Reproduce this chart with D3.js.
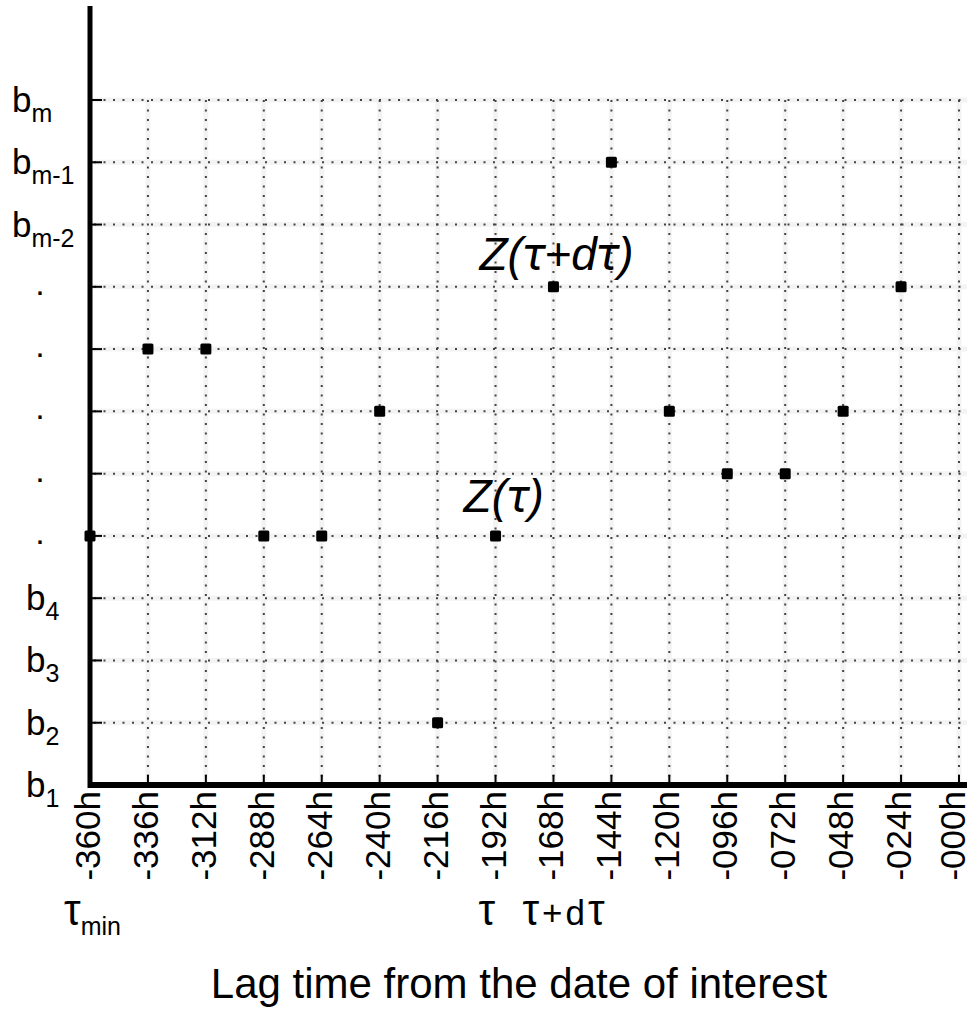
<!DOCTYPE html>
<html>
<head>
<meta charset="utf-8">
<script src="https://cdn.jsdelivr.net/npm/d3@7"></script>
<style>
  html, body { margin: 0; padding: 0; background: #fff; }
  svg { display: block; }
  text { font-family: "Liberation Sans", Arial, sans-serif; fill: #000; }
</style>
</head>
<body>
<svg id="chart" width="967" height="1010"></svg>
<script>
// ---- data ----
const xTickValues = [-360, -336, -312, -288, -264, -240, -216, -192, -168, -144, -120, -96, -72, -48, -24, 0];
const xTickLabels = ["-360h", "-336h", "-312h", "-288h", "-264h", "-240h", "-216h", "-192h", "-168h", "-144h", "-120h", "-096h", "-072h", "-048h", "-024h", "-000h"];
const yLevels = [0, 1, 2, 3, 4, 5, 6, 7, 8, 9, 10, 11];
const yLabelBase = ["b", "b", "b", "b", ".", ".", ".", ".", ".", "b", "b", "b"];
const yLabelSub = ["1", "2", "3", "4", "", "", "", "", "", "m-2", "m-1", "m"];
const pointLag = [-360, -336, -312, -288, -264, -240, -216, -192, -168, -144, -120, -96, -72, -48, -24];
const pointBin = [4, 7, 7, 4, 4, 6, 1, 4, 8, 10, 6, 5, 5, 6, 8];
const xTitle = "Lag time from the date of interest";

// ---- layout ----
const svg = d3.select("#chart");
const x = d3.scaleLinear().domain([-360, 0]).range([90, 959]);
const y = d3.scaleLinear().domain([0, 11]).range([785, 100]);
const gridRight = 967;
const TAU_FONT = "Inter";

// faint halo under grid lines
const halo = svg.append("g").attr("stroke", "#f3f3f3").attr("stroke-width", 5);
xTickValues.slice(1).forEach(v => halo.append("line").attr("x1", x(v)).attr("x2", x(v)).attr("y1", y(11)).attr("y2", y(0)));
yLevels.slice(1).forEach(v => halo.append("line").attr("x1", x(-360)).attr("x2", gridRight).attr("y1", y(v)).attr("y2", y(v)));

// dotted grid
const grid = svg.append("g").attr("stroke", "#444").attr("stroke-width", 2).attr("stroke-dasharray", "2,7.5");
xTickValues.slice(1).forEach(v => grid.append("line").attr("x1", x(v)).attr("x2", x(v)).attr("y1", y(11)).attr("y2", y(0)));
yLevels.slice(1).forEach(v => grid.append("line").attr("x1", x(-360) + 4).attr("x2", gridRight).attr("y1", y(v)).attr("y2", y(v)));

// small tick marks
const ticks = svg.append("g").attr("stroke", "#000").attr("stroke-width", 2);
yLevels.slice(1).forEach(v => ticks.append("line").attr("x1", x(-360)).attr("x2", x(-360) + 12).attr("y1", y(v)).attr("y2", y(v)));
xTickValues.slice(1).forEach(v => ticks.append("line").attr("x1", x(v)).attr("x2", x(v)).attr("y1", y(0)).attr("y2", y(0) - 10));

// points
svg.append("g").selectAll("rect")
  .data(pointLag.map((l, i) => ({ lag: l, bin: pointBin[i] })))
  .join("rect")
  .attr("x", d => x(d.lag) - 5.5)
  .attr("y", d => y(d.bin) - 5.5)
  .attr("width", 11).attr("height", 11)
  .attr("rx", 1.5)
  .attr("fill", "#000");

// axes (thick)
svg.append("line").attr("x1", x(-360)).attr("x2", x(-360)).attr("y1", 6).attr("y2", y(0) + 3)
  .attr("stroke", "#000").attr("stroke-width", 5);
svg.append("line").attr("x1", x(-360) - 2).attr("x2", gridRight).attr("y1", y(0)).attr("y2", y(0))
  .attr("stroke", "#000").attr("stroke-width", 6);

// x tick labels (rotated)
svg.append("g").selectAll("text")
  .data(xTickValues)
  .join("text")
  .attr("transform", d => `translate(${Math.min(x(d) + 10, 965)},${y(0) + 6}) rotate(-90)`)
  .attr("text-anchor", "end")
  .attr("font-size", 35)
  .text((d, i) => xTickLabels[i]);

// y labels with subscripts
const yl = svg.append("g");
yLevels.forEach((v, i) => {
  if (yLabelBase[i] === ".") {
    yl.append("text").attr("x", 40).attr("y", y(v) + 8).attr("font-size", 34).attr("text-anchor", "middle").text(".");
  } else {
    const startX = yLabelSub[i].startsWith("m") ? 12 : 26;
    const t = yl.append("text").attr("x", startX).attr("y", y(v) + 12).attr("font-size", 35);
    t.append("tspan").text(yLabelBase[i]);
    t.append("tspan").attr("font-size", 25).attr("dy", 10).text(yLabelSub[i]);
  }
});

// upright tall tau helper: draws a string where each τ is a tall T-like glyph
function tauText(str, x0, baseline, size, gap) {
  let cx = x0;
  const sx = 1.4;
  for (const ch of str) {
    if (ch === "τ") {
      const t = svg.append("text")
        .attr("transform", `translate(${cx},${baseline}) scale(${sx},1.5)`)
        .attr("font-family", TAU_FONT)
        .attr("font-size", size * 0.86)
        .text("τ");
      cx += t.node().getComputedTextLength() * sx + gap;
    } else {
      const t = svg.append("text").attr("x", cx).attr("y", baseline).attr("font-size", size).text(ch);
      cx += t.node().getComputedTextLength() + gap;
    }
  }
  return cx;
}

// tau labels under axis
const endTau = tauText("τ", 64, 925, 35, 0);
svg.append("text").attr("x", endTau).attr("y", 935).attr("font-size", 25).text("min");
tauText("τ", x(-192) - 17, 925, 35, 0);
tauText("τ+dτ", x(-168) - 31, 925, 35, 3);

// annotations (italic, with T-shaped tau)
function annot(parts, x0, baseline) {
  const t = svg.append("text").attr("x", x0).attr("y", baseline).attr("font-size", 46).attr("font-style", "italic");
  parts.forEach(p => {
    const s = t.append("tspan").text(p);
    if (p === "τ") s.attr("font-family", TAU_FONT);
  });
}
annot(["Z(", "τ", ")"], x(-192) - 32, y(4) - 24);
annot(["Z(", "τ", "+d", "τ", ")"], x(-168) - 74, y(8) - 17);

// axis title
svg.append("text").attr("x", 519).attr("y", 998).attr("font-size", 42).attr("text-anchor", "middle").text(xTitle);
</script>
</body>
</html>
